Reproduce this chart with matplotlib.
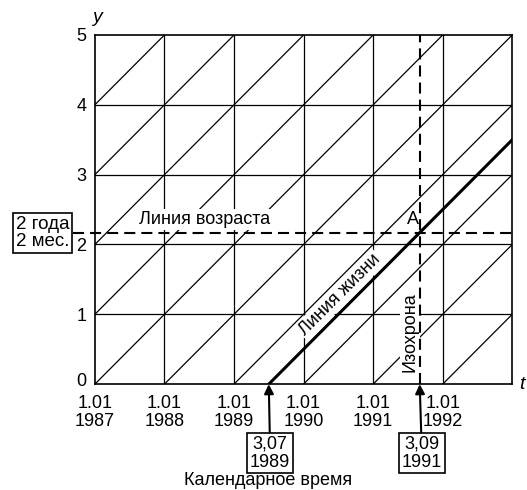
import matplotlib
matplotlib.use("Agg")
import matplotlib.pyplot as plt
from matplotlib.transforms import ScaledTranslation

plt.rcParams["font.family"] = ["Liberation Sans", "DejaVu Sans"]

# calendar years on the x axis, ages on the y axis
years = [1987, 1988, 1989, 1990, 1991, 1992]
year_labels = ["1.01\n1987", "1.01\n1988", "1.01\n1989", "1.01\n1990", "1.01\n1991", "1.01\n1992"]
ages = [0, 1, 2, 3, 4, 5]
diag_starts = list(range(1982, 1993))  # lines of equal birth year

birth_date = 1989.5          # 3.07.1989
birth_label = "3,07\n1989"
iso_date = 1991.67           # 3.09.1991
iso_label = "3,09\n1991"
age_value = 2 + 2 / 12       # 2 years 2 months
age_label = "2 года\n2 мес."

x_min, x_max = 1987, 1993
y_min, y_max = 0, 5

fig = plt.figure(figsize=(5.27, 4.9), dpi=100)
ax = fig.add_axes([0.180, 0.216, 0.792, 0.7126])
ax.set_xlim(x_min, x_max)
ax.set_ylim(y_min, y_max)

grid_kw = dict(color="black", lw=0.9, zorder=1)
for x in years[1:]:
    ax.plot([x, x], [y_min, y_max], **grid_kw)
for y in ages[1:-1]:
    ax.plot([x_min, x_max], [y, y], **grid_kw)
for x0 in diag_starts:
    ax.plot([x0, x0 + 6], [0, 6], **grid_kw)

for s in ax.spines.values():
    s.set_linewidth(1.2)

# life line
ax.plot([birth_date, x_max], [0, x_max - birth_date], color="black", lw=2.2, zorder=4)

dash_kw = dict(color="black", lw=1.5, dashes=(5.3, 2.9), zorder=5)
# isochrone
ax.plot([iso_date, iso_date], [y_min, y_max], **dash_kw)
# age line
ax.plot([x_min - 0.32, x_max], [age_value, age_value], clip_on=False, **dash_kw)

ax.set_xticks(years)
ax.set_xticklabels(year_labels, fontsize=13, linespacing=1.05)
ax.set_yticks(ages)
ax.set_yticklabels([str(a) for a in ages], fontsize=13)
ax.tick_params(axis="x", length=0, pad=8)
ax.tick_params(axis="y", length=0, pad=6)
lab0 = ax.get_yticklabels()[0]
lab0.set_transform(lab0.get_transform() + ScaledTranslation(0, 3 / 72, fig.dpi_scale_trans))

white = dict(boxstyle="square,pad=0.1", fc="white", ec="none")
ax.text(1988.57, 2.36, "Линия возраста", fontsize=13, ha="center", va="center",
        bbox=white, zorder=3)
ax.text(1991.58, 2.36, "A", fontsize=13, ha="center", va="center", zorder=6)
ax.text(1990.52, 1.28, "Линия жизни", fontsize=13, ha="center", va="center",
        rotation=45, rotation_mode="anchor", bbox=white, zorder=3)
ax.text(1991.53, 0.75, "Изохрона", fontsize=13, ha="center", va="center",
        rotation=90, bbox=white, zorder=3)

box = dict(boxstyle="square,pad=0.15", fc="white", ec="black", lw=1.2)
arrow = dict(arrowstyle="-|>", lw=1.5, color="black", mutation_scale=14, shrinkA=0, shrinkB=0)
ax.annotate(birth_label, xy=(birth_date, 0), xytext=(birth_date + 0.02, -0.99),
            fontsize=13, ha="center", va="center", linespacing=1.05,
            bbox=box, arrowprops=arrow, annotation_clip=False)
ax.annotate(iso_label, xy=(iso_date, 0), xytext=(iso_date + 0.03, -0.99),
            fontsize=13, ha="center", va="center", linespacing=1.05,
            bbox=box, arrowprops=arrow, annotation_clip=False)
ax.text(x_min - 0.75, age_value, age_label, fontsize=13.5, ha="center", va="center",
        linespacing=1.05, bbox=box, clip_on=False)

ax.text(x_min + 0.03, 5.25, "y", fontsize=14, style="italic", ha="center", va="center")
ax.text(x_max + 0.14, 0.0, "t", fontsize=14, style="italic", ha="center", va="center")
fig.text(268 / 527, 1 - 480 / 490, "Календарное время", fontsize=13, ha="center", va="center")

fig.savefig("out.png", dpi=100)
